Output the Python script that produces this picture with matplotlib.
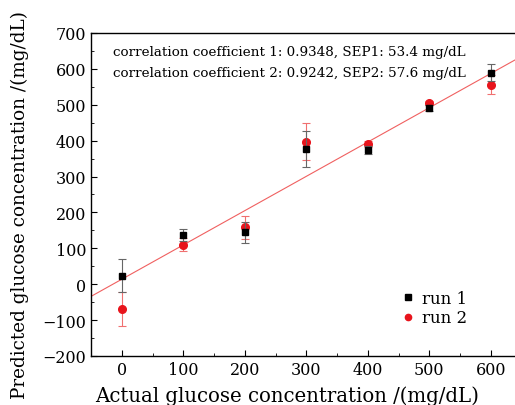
import matplotlib
matplotlib.use("Agg")
import matplotlib.pyplot as plt
from matplotlib.ticker import MultipleLocator
from matplotlib.lines import Line2D

actual = [0, 100, 200, 300, 400, 500, 600]
run1 = [24, 137, 145, 377, 374, 491, 589]
run1_err = [47, 16, 29, 50, 12, 7, 24]
run2 = [-69, 110, 159, 397, 390, 504, 556]
run2_err = [48, 18, 32, 52, 8, 6, 27]
fit_x = [-50, 650]
fit_y = [-34, 635]

plt.rcParams['font.family'] = ['DejaVu Serif']

fig = plt.figure(figsize=(5.15, 4.06), dpi=100)
ax = fig.add_axes([0.1767, 0.1207, 0.836, 0.7956])

ax.plot(fit_x, fit_y, color='#f06060', lw=0.8, zorder=1)
ax.errorbar(actual, run1, yerr=run1_err, fmt='s', color='black', ms=5,
            ecolor='#666666', elinewidth=0.8, capsize=3, capthick=0.8,
            zorder=3)
ax.errorbar(actual, run2, yerr=run2_err, fmt='o', color='#e8141c', ms=5.5,
            ecolor='#f07070', elinewidth=0.8, capsize=3, capthick=0.8,
            zorder=2)

ax.set_xlim(-50, 650)
ax.set_ylim(-200, 700)
ax.xaxis.set_major_locator(MultipleLocator(100))
ax.xaxis.set_minor_locator(MultipleLocator(50))
ax.yaxis.set_major_locator(MultipleLocator(100))
ax.yaxis.set_minor_locator(MultipleLocator(50))
ax.tick_params(which='both', direction='in', top=False, right=False,
               labelsize=11.5)
ax.tick_params(which='major', length=4)
ax.tick_params(which='minor', length=2.5)
for s in ax.spines.values():
    s.set_linewidth(1.0)

ax.set_xlabel('Actual glucose concentration /(mg/dL)', fontsize=14.2)
ax.xaxis.set_label_coords(0.455, -0.092)
ax.set_ylabel('Predicted glucose concentration /(mg/dL)', fontsize=13.2)
ax.yaxis.set_label_coords(-0.145, 0.47)

ax.text(0.051, 0.944, 'correlation coefficient 1: 0.9348, SEP1: 53.4 mg/dL',
        transform=ax.transAxes, fontsize=9.7, va='center', ha='left')
ax.text(0.051, 0.879, 'correlation coefficient 2: 0.9242, SEP2: 57.6 mg/dL',
        transform=ax.transAxes, fontsize=9.7, va='center', ha='left')

handles = [Line2D([], [], marker='s', color='black', ls='none', ms=4.5),
           Line2D([], [], marker='o', color='#e8141c', ls='none', ms=4.5)]
ax.legend(handles, ['run 1', 'run 2'], loc='upper left',
          bbox_to_anchor=(0.71, 0.225), frameon=False, fontsize=12,
          handlelength=0.6, handletextpad=0.5, labelspacing=0.15,
          borderaxespad=0)

fig.savefig('out.png', dpi=100)
